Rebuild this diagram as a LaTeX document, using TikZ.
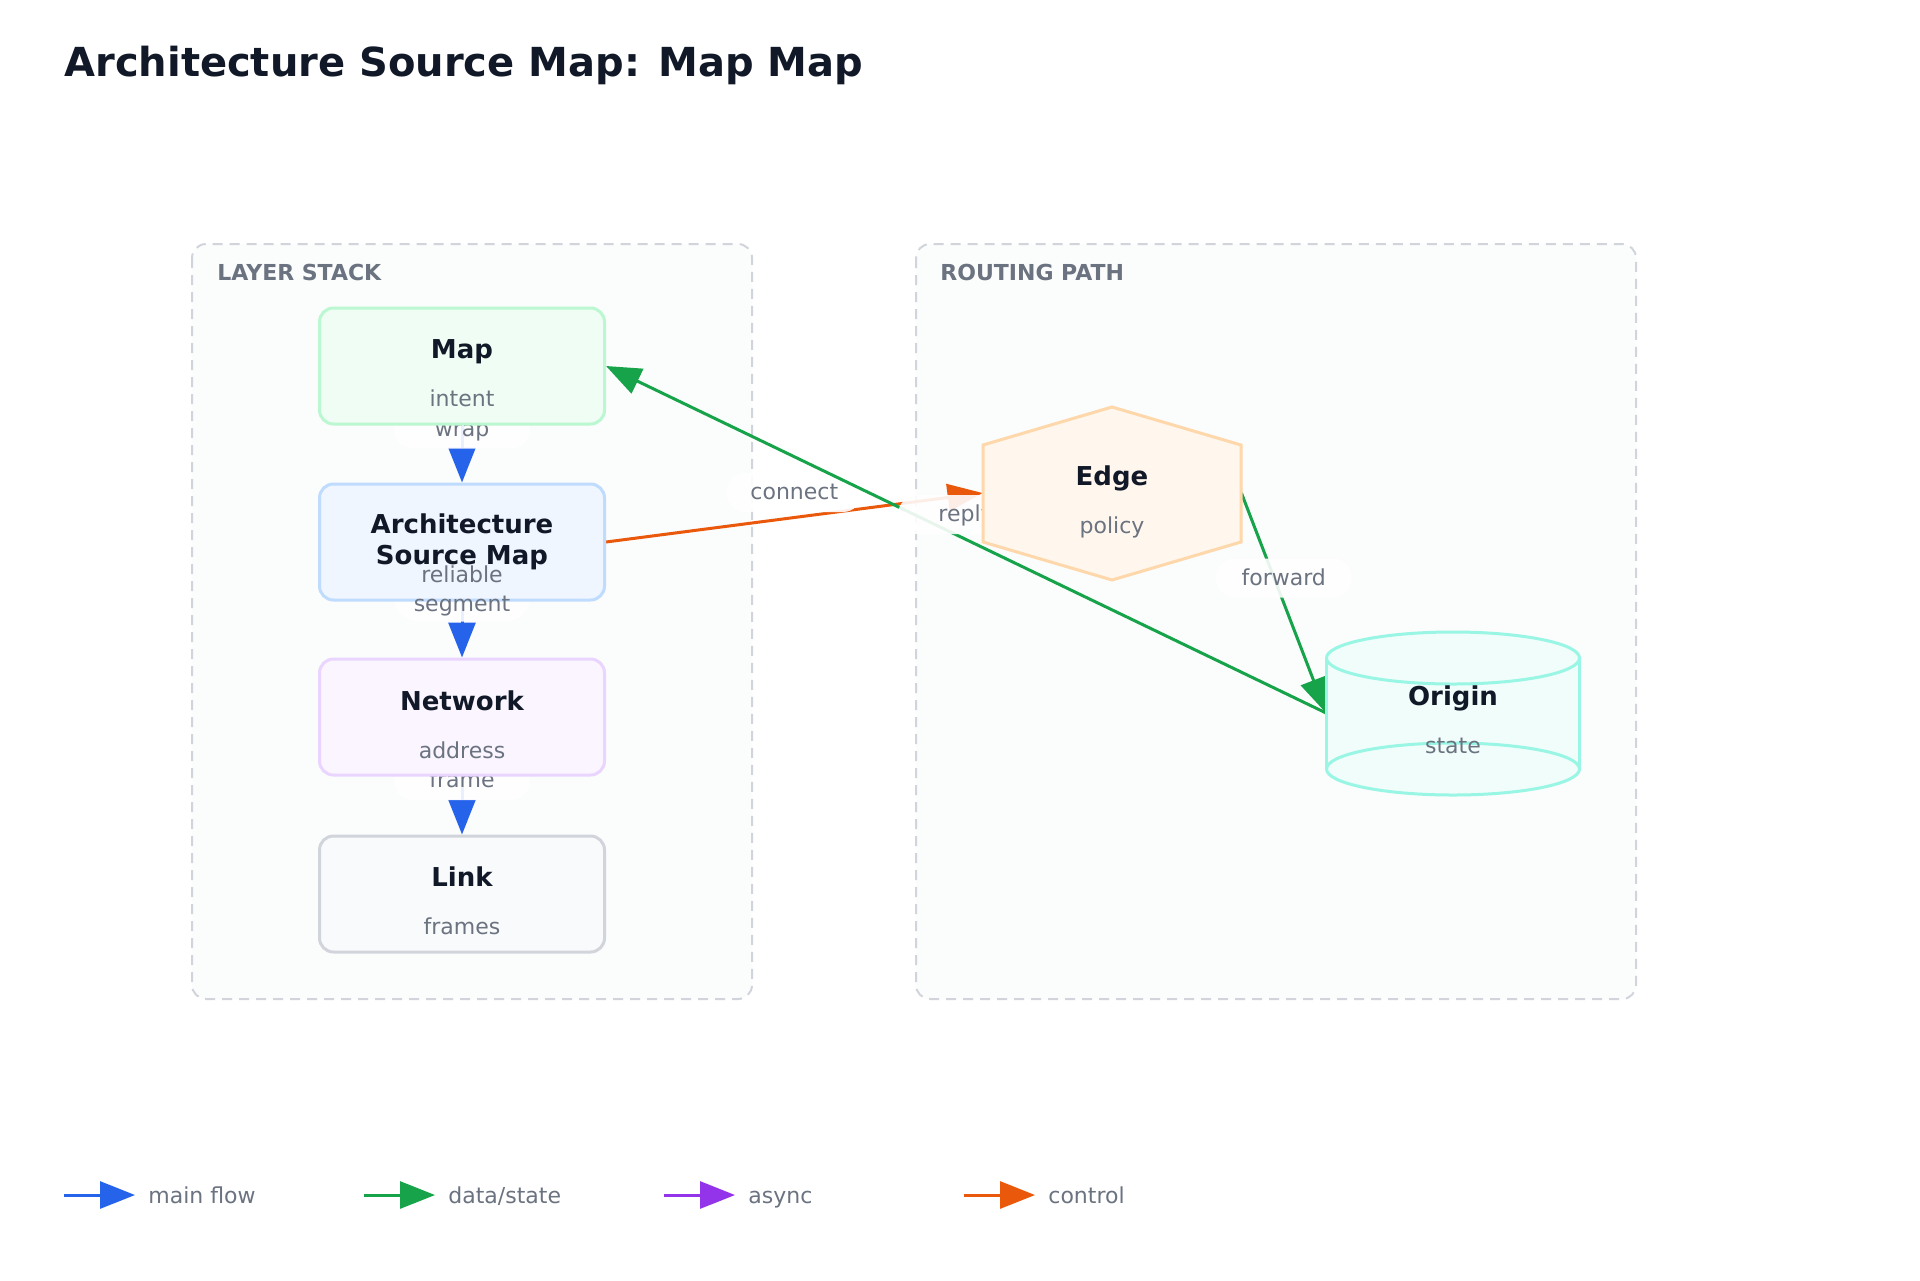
\documentclass[tikz,border=0pt]{standalone}
\usepackage{fontspec}
\setmainfont{DejaVu Sans}
\usetikzlibrary{arrows.meta,calc}
\definecolor{ink}{HTML}{111827}
\definecolor{muted}{HTML}{6B7280}
\definecolor{grpline}{HTML}{D1D5DB}
\definecolor{grpfill}{HTML}{FBFCFC}
\definecolor{cblue}{HTML}{2563EB}
\definecolor{cgreen}{HTML}{16A34A}
\definecolor{cpurple}{HTML}{9333EA}
\definecolor{corange}{HTML}{EA580C}
\definecolor{mapfill}{HTML}{F0FDF4}\definecolor{mapline}{HTML}{BBF7D0}
\definecolor{archfill}{HTML}{EFF6FF}\definecolor{archline}{HTML}{BFDBFE}
\definecolor{netfill}{HTML}{FAF5FF}\definecolor{netline}{HTML}{E9D5FF}
\definecolor{linkfill}{HTML}{F9FAFB}\definecolor{linkline}{HTML}{D1D5DB}
\definecolor{edgefill}{HTML}{FFF7ED}\definecolor{edgeline}{HTML}{FED7AA}
\definecolor{origfill}{HTML}{F0FDFA}\definecolor{origline}{HTML}{99F6E4}
\pgfdeclarelayer{grp}\pgfdeclarelayer{edges}\pgfdeclarelayer{top}
\pgfsetlayers{grp,edges,main,top}
\tikzset{
  box/.style={draw, line width=1.5pt, rounded corners=7pt, minimum width=142.5pt, minimum height=58pt, inner sep=0pt},
  ttl/.style={font=\bfseries\fontsize{13}{16}\selectfont, text=ink, anchor=base, inner sep=0pt},
  subt/.style={font=\fontsize{11}{13}\selectfont, text=muted, anchor=base, inner sep=0pt},
  lbl/.style={font=\fontsize{11}{13}\selectfont, text=muted, anchor=base, inner sep=0pt},
  lblbg/.style={fill=white, fill opacity=0.9, rounded corners=9.75pt, minimum width=68pt, minimum height=19.5pt, inner sep=0pt},
  grpbox/.style={draw=grpline, fill=grpfill, line width=1pt, dash pattern=on 5pt off 3.5pt, rounded corners=7pt},
  grplbl/.style={font=\bfseries\fontsize{11}{13}\selectfont, text=muted, anchor=base west, inner sep=0pt},
  flow/.style={line width=1.5pt, -{Triangle[length=17.5pt,width=13.5pt]}},
  legtxt/.style={font=\fontsize{11}{13}\selectfont, text=muted, anchor=base west, inner sep=0pt},
}
\begin{document}
\begin{tikzpicture}[x=0.5pt,y=-0.5pt]
\useasboundingbox (0,0) rectangle (1920,1280);

% background and groups
\begin{pgfonlayer}{grp}
\fill[white] (0,0) rectangle (1920,1280);
\draw[grpbox] (192,244) rectangle (752,999);
\draw[grpbox] (916,244) rectangle (1636,999);
\end{pgfonlayer}

% title
\node[anchor=base west, inner sep=0pt, font=\bfseries\fontsize{20}{24}\selectfont, text=ink] (title) at (64,76) {Architecture Source Map: Map Map};

\node[grplbl] (g1) at (217,280) {LAYER STACK};
\node[grplbl] (g2) at (940,280) {ROUTING PATH};

% layer stack nodes
\node[box, fill=mapfill, draw=mapline] (map) at (462,366) {};
\node[ttl] at ($(map.center)+(0,-8)$) {Map};
\node[subt] at ($(map.center)+(0,40)$) {intent};

\node[box, fill=archfill, draw=archline] (arch) at (462,542) {};
\node[ttl] at ($(arch.center)+(0,-9)$) {Architecture};
\node[ttl] at ($(arch.center)+(0,22)$) {Source Map};

\node[box, fill=netfill, draw=netline] (net) at (462,717) {};
\node[ttl] at ($(net.center)+(0,-7)$) {Network};
\node[subt] at ($(net.center)+(0,41)$) {address};

\node[box, fill=linkfill, draw=linkline] (link) at (462,894) {};
\node[ttl] at ($(link.center)+(0,-8)$) {Link};
\node[subt] at ($(link.center)+(0,40)$) {frames};

% edge hexagon
\node[inner sep=0pt, minimum width=129pt, minimum height=48.5pt] (edgen) at (1112,493) {};
\draw[fill=edgefill, draw=edgeline, line width=1.5pt, line join=miter]
  ($(edgen.center)+(0,-86)$) -- ($(edgen.center)+(129,-48)$) -- ($(edgen.center)+(129,49)$)
  -- ($(edgen.center)+(0,87)$) -- ($(edgen.center)+(-129,49)$) -- ($(edgen.center)+(-129,-48)$) -- cycle;
\node[ttl] at ($(edgen.center)+(0,-8)$) {Edge};
\node[subt] at ($(edgen.center)+(0,40)$) {policy};

% origin cylinder
\node[inner sep=0pt, minimum width=126.5pt, minimum height=81.5pt] (orig) at (1453,713) {};
\fill[origfill] ($(orig.center)+(-126.5,-55)$) -- ($(orig.center)+(-126.5,56)$)
  arc[start angle=180, end angle=360, x radius=63.25pt, y radius=13pt]
  -- ($(orig.center)+(126.5,-55)$)
  arc[start angle=0, end angle=180, x radius=63.25pt, y radius=13pt] -- cycle;
\draw[origline, line width=1.5pt] ($(orig.center)+(0,-55)$) ellipse[x radius=63.25pt, y radius=13pt];
\draw[origline, line width=1.5pt] ($(orig.center)+(0,56)$) ellipse[x radius=63.25pt, y radius=13pt];
\draw[origline, line width=1.5pt] ($(orig.center)+(-126.5,-55)$) -- ($(orig.center)+(-126.5,56)$);
\draw[origline, line width=1.5pt] ($(orig.center)+(126.5,-55)$) -- ($(orig.center)+(126.5,56)$);
\node[ttl] at ($(orig.center)+(0,-8)$) {Origin};
\node[subt] at ($(orig.center)+(0,40)$) {state};

% edges
\begin{pgfonlayer}{edges}
\draw[flow, cblue] (map.south) -- (arch.north);
\node[lblbg] at ($(map.south)!0.5!(arch.north)+(0,-25)$) {};
\node[lbl] at ($(map.south)!0.5!(arch.north)+(0,-18)$) {wrap};

\draw[flow, cblue] (arch.south) -- (net.north);
\node[lblbg, minimum height=31pt, rounded corners=12pt] at ($(arch.south)!0.5!(net.north)+(0,-39)$) {};

\draw[flow, cblue] (net.south) -- (link.north);
\node[lblbg] at ($(net.south)!0.5!(link.north)+(0,-25)$) {};
\node[lbl] at ($(net.south)!0.5!(link.north)+(0,-18)$) {frame};

\draw[flow, corange] (arch.east) -- (edgen.west);
\node[lblbg] at ($(arch.east)!0.5!(edgen.west)+(0,-25)$) {};
\node[lbl] at ($(arch.east)!0.5!(edgen.west)+(0,-18)$) {connect};

\draw[flow, cgreen] (orig.west) -- (map.east);
\node[lblbg] at ($(orig.west)!0.5!(map.east)+(0,-25)$) {};
\node[lbl] at ($(orig.west)!0.5!(map.east)+(0,-18)$) {reply};

\draw[flow, cgreen] (edgen.east) -- (orig.west);
\node[lblbg] at ($(edgen.east)!0.5!(orig.west)+(0,-25)$) {};
\node[lbl] at ($(edgen.east)!0.5!(orig.west)+(0,-18)$) {forward};
\end{pgfonlayer}

\begin{pgfonlayer}{top}
\node[lbl] at ($(arch.south)!0.5!(net.north)+(0,-47)$) {reliable};
\node[lbl] at ($(arch.south)!0.5!(net.north)+(0,-18)$) {segment};
\end{pgfonlayer}

% legend
\coordinate (l1a) at (64,1195); \coordinate (l1b) at (135,1195);
\coordinate (l2a) at (364,1195); \coordinate (l2b) at (435,1195);
\coordinate (l3a) at (664,1195); \coordinate (l3b) at (735,1195);
\coordinate (l4a) at (964,1195); \coordinate (l4b) at (1035,1195);
\draw[flow, cblue] (l1a) -- (l1b);
\draw[flow, cgreen] (l2a) -- (l2b);
\draw[flow, cpurple] (l3a) -- (l3b);
\draw[flow, corange] (l4a) -- (l4b);
\node[legtxt] at (148,1203) {main flow};
\node[legtxt] at (448,1203) {data/state};
\node[legtxt] at (748,1203) {async};
\node[legtxt] at (1048,1203) {control};
\end{tikzpicture}
\end{document}
